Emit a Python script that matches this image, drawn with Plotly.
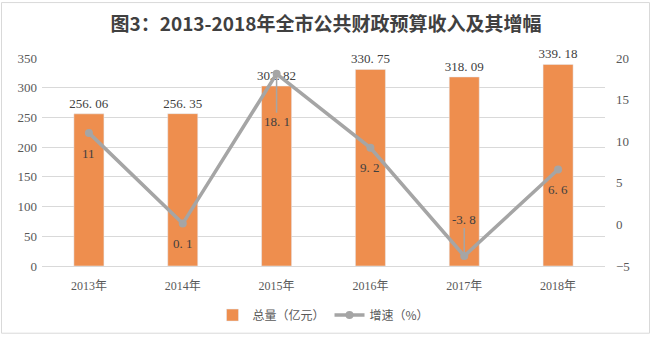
import plotly.graph_objects as go

years = ["2013年", "2014年", "2015年", "2016年", "2017年", "2018年"]
totals = [256.06, 256.35, 302.82, 330.75, 318.09, 339.18]
growth = [11, 0.1, 18.1, 9.2, -3.8, 6.6]
growth_labels = ["11", "0. 1", "18. 1", "9. 2", "-3. 8", "6. 6"]
total_labels = ["256. 06", "256. 35", "302. 82", "330. 75", "318. 09", "339. 18"]

W, H = 652, 342
L, R, T, B = 42, 47, 58, 72
pw, ph = W - L - R, H - T - B

serif = "Liberation Serif, Noto Sans CJK SC, serif"
fig = go.Figure()
fig.add_trace(go.Bar(
    x=years, y=totals, name="总量（亿元）", marker_color="#EE8E4E",
    width=0.32, text=total_labels, textposition="outside", cliponaxis=False,
    constraintext="none",
    textfont=dict(family=serif, size=13, color="#404040"),
))
fig.add_trace(go.Scatter(
    x=years, y=growth, name="增速（%）", yaxis="y2", mode="lines+markers",
    line=dict(color="#A5A5A5", width=3.5), marker=dict(size=8, color="#A5A5A5"),
))

offsets = {0: ("shift", -21), 1: ("shift", -20), 2: ("arrow", 48),
           3: ("shift", -20), 4: ("arrow", -37), 5: ("shift", -20)}
for i, (yr, g, lab) in enumerate(zip(years, growth, growth_labels)):
    kind, v = offsets[i]
    common = dict(x=yr, y=g, xref="x", yref="y2", text=lab,
                  font=dict(family=serif, size=13, color="#404040"))
    if kind == "shift":
        fig.add_annotation(**common, showarrow=False, yshift=v)
    else:
        fig.add_annotation(**common, showarrow=True, ax=0, ay=v, arrowhead=0,
                           arrowwidth=1.5, arrowcolor="#A5A5A5", standoff=3)

# outer frame
fig.add_shape(type="rect", xref="paper", yref="paper",
              x0=(1.5 - L) / pw, x1=(W - 2.5 - L) / pw,
              y0=(H - B - (H - 3.5)) / ph, y1=(H - B - 1.5) / ph,
              line=dict(color="#D9D9D9", width=1), fillcolor="rgba(0,0,0,0)")

fig.update_layout(
    width=W, height=H, margin=dict(l=L, r=R, t=T, b=B),
    paper_bgcolor="white", plot_bgcolor="white",
    title=dict(text="<b>图3：2013-2018年全市公共财政预算收入及其增幅</b>",
               x=0.5, xanchor="center", y=1 - 24 / H, yanchor="middle",
               font=dict(family="Noto Sans CJK SC", size=19, color="#404040")),
    xaxis=dict(tickfont=dict(family=serif, size=12, color="#595959"),
               showline=True, linecolor="#D9D9D9", ticks="", showgrid=False,
               ticklabelstandoff=9),
    yaxis=dict(range=[0, 350], dtick=50, gridcolor="#D9D9D9", zeroline=False,
               tickfont=dict(family=serif, size=13, color="#595959"),
               ticklabelstandoff=4),
    yaxis2=dict(range=[-5, 20], dtick=5, overlaying="y", side="right",
                showgrid=False, zeroline=False,
                tickfont=dict(family=serif, size=13, color="#595959"),
                ticklabelstandoff=10),
    legend=dict(orientation="h", x=0.5, xanchor="center", y=-50 / ph,
                yanchor="middle", font=dict(family="Noto Sans CJK SC", size=12, color="#595959")),
    bargap=0.68, showlegend=True,
)
fig.write_html("out.html")
